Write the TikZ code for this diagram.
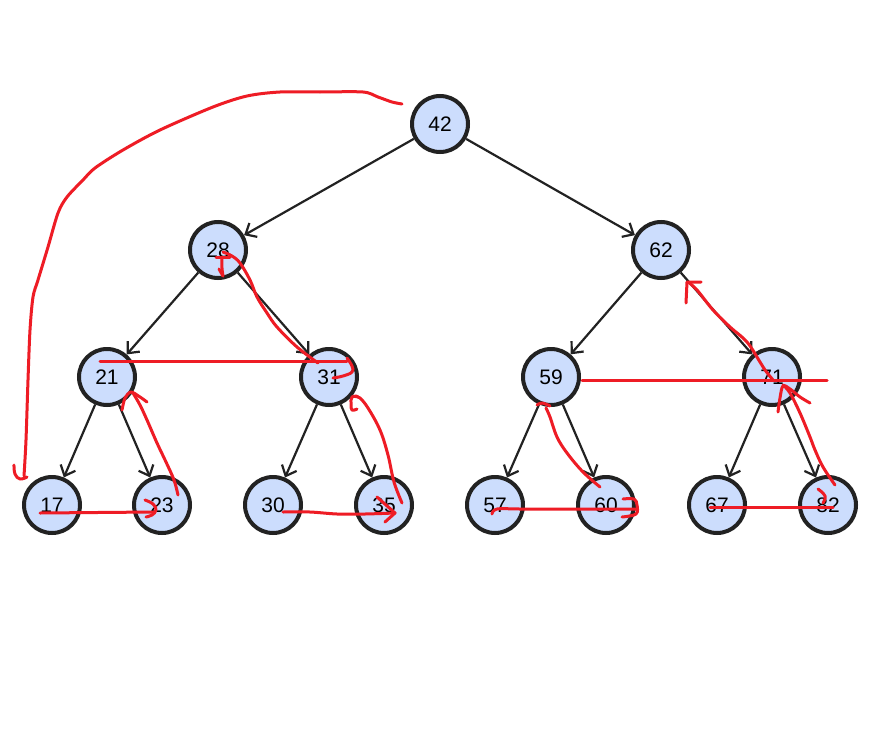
\documentclass[tikz,border=0pt]{standalone}
\usepackage{fontspec}
\setmainfont{Liberation Sans}
\usetikzlibrary{arrows.meta}
\definecolor{nodefill}{HTML}{CCDDFD}
\definecolor{nodeline}{HTML}{222222}
\definecolor{pen}{HTML}{EE1C25}
\tikzset{
  treenode/.style={circle, draw=nodeline, line width=4pt, fill=nodefill, minimum size=56pt, inner sep=0pt, font=\fontsize{21}{25}\selectfont},
  edge/.style={draw=nodeline, line width=2.2pt, -{Straight Barb[length=9pt,width=16pt,line width=2.2pt]}},
  ink/.style={draw=pen, line width=3pt, line cap=round, line join=round}
}
\begin{document}
\begin{tikzpicture}[x=1pt,y=-1pt]
\useasboundingbox (0,0) rectangle (880,752);
\fill[white] (0,0) rectangle (880,752);
% nodes
\node[treenode] (n42) at (440,124) {42};
\node[treenode] (n28) at (218,250) {28};
\node[treenode] (n62) at (661,250) {62};
\node[treenode] (n21) at (107,377) {21};
\node[treenode] (n31) at (329,377) {31};
\node[treenode] (n59) at (551,377) {59};
\node[treenode] (n71) at (772,377) {71};
\node[treenode] (n17) at (52,505) {17};
\node[treenode] (n23) at (162,505) {23};
\node[treenode] (n30) at (273,505) {30};
\node[treenode] (n35) at (384,505) {35};
\node[treenode] (n57) at (495,505) {57};
\node[treenode] (n60) at (606,505) {60};
\node[treenode] (n67) at (717,505) {67};
\node[treenode] (n82) at (828,505) {82};
% edges
\draw[edge] (n42) -- (n28);
\draw[edge] (n42) -- (n62);
\draw[edge] (n28) -- (n21);
\draw[edge] (n28) -- (n31);
\draw[edge] (n62) -- (n59);
\draw[edge] (n62) -- (n71);
\draw[edge] (n21) -- (n17);
\draw[edge] (n21) -- (n23);
\draw[edge] (n31) -- (n30);
\draw[edge] (n31) -- (n35);
\draw[edge] (n59) -- (n57);
\draw[edge] (n59) -- (n60);
\draw[edge] (n71) -- (n67);
\draw[edge] (n71) -- (n82);
% red annotations
% 1: big curve from 42 to 17
\draw[ink] plot[smooth, tension=0.5] coordinates {(402,104) (392,102) (378,97) (363,92) (320,92) (280,92) (247,96) (213,107) (160,130) (123,150) (95,168) (83,180) (67,197) (58,213) (48,247) (38,280) (33,297) (30,330) (28,380) (26,440) (24,476)};
\draw[ink] plot[smooth, tension=0.7] coordinates {(14,465) (15,474) (20,479) (27,477)};
% 2: 28 mark and stroke to 31
\draw[ink] (216,257) -- (230,257);
\draw[ink] plot[smooth] coordinates {(222,257) (222,268) (223,276)};
\draw[ink] (219,269) -- (223,276);
\draw[ink] plot[smooth, tension=0.6] coordinates {(223,252) (232,256) (240,263) (250,280) (257,297) (267,313) (277,327) (297,347) (318,363)};
% 3: 21 to 31
\draw[ink] (100,361) -- (347,361);
\draw[ink] plot[smooth, tension=0.7] coordinates {(347,358) (352,366) (352,372) (343,376) (333,378)};
% 4: 23 up to 21
\draw[ink] plot[smooth, tension=0.6] coordinates {(178,495) (174,480) (166,462) (157,443) (147,420) (140,405) (133,393)};
\draw[ink] plot[smooth, tension=0.5] coordinates {(122,410) (125,398) (131,392) (140,397) (147,402)};
% 5: 17 to 23
\draw[ink] (40,513) -- (154,512);
\draw[ink] plot[smooth, tension=0.7] coordinates {(145,500) (153,504) (156,510) (152,515) (146,517)};
% 6: 30 to 35
\draw[ink] plot[smooth, tension=0.5] coordinates {(283,512) (310,512) (337,514) (365,514) (395,513)};
\draw[ink] (377,497) -- (395,513) -- (385,522);
% 7: 35 up to 31
\draw[ink] plot[smooth, tension=0.6] coordinates {(402,503) (394,482) (388,455) (380,430) (368,408) (360,398) (355,396)};
\draw[ink] plot[smooth, tension=0.7] coordinates {(358,397) (352,397) (351,404) (352,410) (357,409)};
% 8: 59 to 71
\draw[ink] (582,380) -- (827,380);
% 9: 82 up through 71 to 62
\draw[ink] plot[smooth, tension=0.6] coordinates {(835,485) (823,467) (815,450) (810,437) (800,413) (790,393) (783,385)};
\draw[ink] plot[smooth, tension=0.6] coordinates {(778,412) (780,398) (783,386) (790,389) (800,397) (810,403)};
\draw[ink] plot[smooth, tension=0.6] coordinates {(773,380) (765,370) (760,362) (747,342) (730,327) (713,310) (697,290) (688,282)};
\draw[ink] (686,303) -- (687,282) -- (701,282);
% 10: 60 up to 59
\draw[ink] plot[smooth, tension=0.6] coordinates {(600,487) (583,472) (567,453) (557,437) (550,417) (546,408)};
\draw[ink] plot[smooth, tension=0.7] coordinates {(537,405) (542,403) (550,406)};
% 11: 57 to 60
\draw[ink] plot[smooth, tension=0.6] coordinates {(492,514) (497,509) (520,509) (560,509) (600,509) (637,509)};
\draw[ink] plot[smooth, tension=0.6] coordinates {(623,499) (634,499) (637,505) (636,514) (622,517)};
% 12: 67 to 82
\draw[ink] (710,507) -- (833,507);
\draw[ink] plot[smooth, tension=0.7] coordinates {(818,489) (825,496) (823,503)};
\end{tikzpicture}
\end{document}
